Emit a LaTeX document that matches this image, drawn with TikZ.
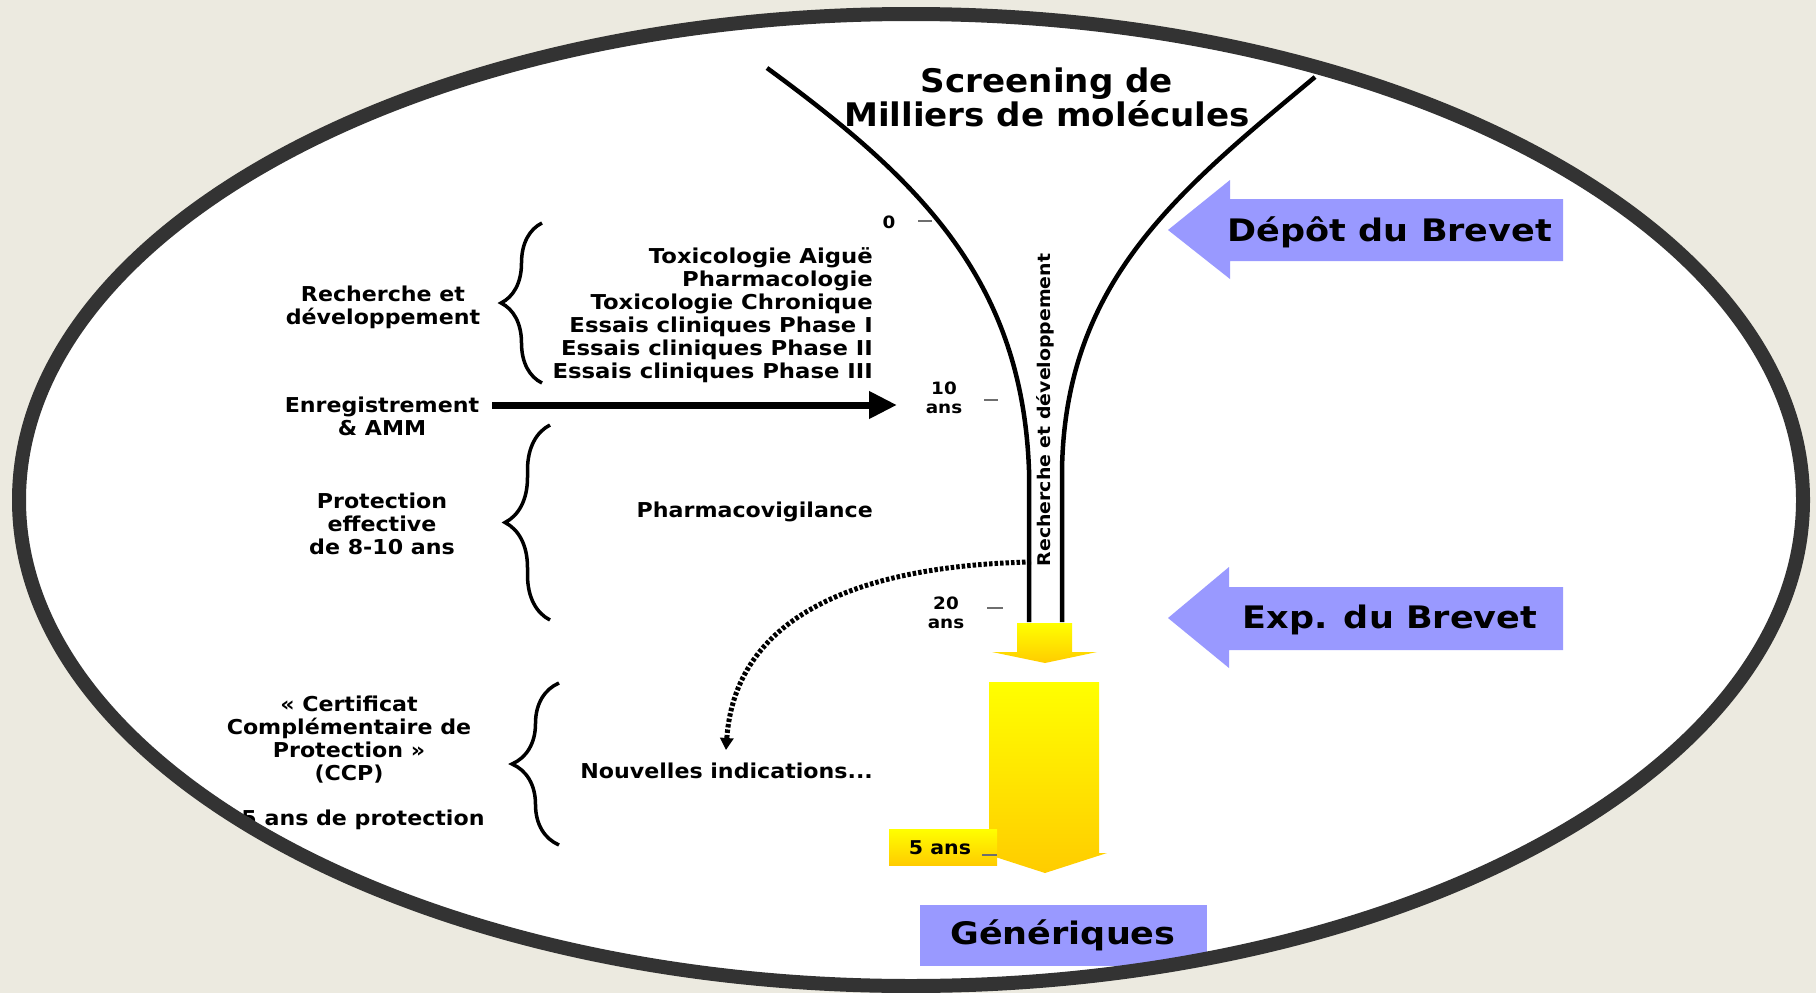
\documentclass[tikz,border=0pt]{standalone}
\usepackage{fontspec}
\setmainfont{DejaVu Sans}
\newfontfamily\bodyf[FakeStretch=1.08]{DejaVu Sans}
\newfontfamily\listf[FakeStretch=1.11]{DejaVu Sans}
\newfontfamily\titlef[FakeStretch=1.05]{DejaVu Sans}
\newfontfamily\bigf[FakeStretch=1.13]{DejaVu Sans}
\usetikzlibrary{arrows.meta,decorations.pathreplacing}
\definecolor{bgbeige}{RGB}{236,234,224}
\definecolor{framegray}{RGB}{51,51,51}
\definecolor{periwinkle}{RGB}{153,153,255}
\definecolor{goldY}{RGB}{255,204,0}
\definecolor{tickgray}{RGB}{110,110,110}
\tikzset{
  txt/.style={inner sep=0pt, align=center, font=\bodyf\bfseries\fontsize{20.5}{23}\selectfont},
  listtxt/.style={inner sep=0pt, align=right, font=\listf\bfseries\fontsize{20.5}{23}\selectfont},
  smalltxt/.style={inner sep=0pt, align=center, font=\bodyf\bfseries\fontsize{17}{18.5}\selectfont},
  verttxt/.style={inner sep=0pt, rotate=90, font=\bodyf\bfseries\fontsize{17.5}{19}\selectfont},
  titletxt/.style={inner sep=0pt, align=center, font=\titlef\bfseries\fontsize{32.5}{34}\selectfont},
  bigtxt/.style={inner sep=0pt, font=\bigf\bfseries\fontsize{31}{33}\selectfont},
  funnel/.style={line width=4.5pt, black},
  tickmark/.style={line width=2pt, tickgray},
  bracestyle/.style={line width=3.5pt, decorate},
  bluearrow/.style={fill=periwinkle},
  yellowshade/.style={top color=yellow, bottom color=goldY},
  mainarrow/.style={line width=7pt, -{Triangle[length=28pt,width=26pt]}},
  dotarrow/.style={line width=5pt, dash pattern=on 3.5pt off 2pt, -{Triangle[length=12pt,width=13pt]}},
}
\begin{document}
\begin{tikzpicture}[x=1pt,y=-1pt]
\useasboundingbox (0,0) rectangle (1816,993);
\fill[bgbeige] (0,0) rectangle (1816,993);
\fill[white] (911,500) ellipse [x radius=892pt, y radius=486pt];

% title
\node[titletxt] (title) at (1047,97) {Screening de\\Milliers de molécules};

% funnel
\draw[funnel] (767,68) .. controls (920,180) and (1022,280) .. (1029,470) -- (1029,622);
\draw[funnel] (1315,77) .. controls (1180,190) and (1065,280) .. (1062,470) -- (1062,622);
\node[verttxt] (rdv) at (1045,410) {Recherche et développement};

% scale labels
\node[smalltxt] (t0) at (889,222) {0};
\draw[tickmark] (918,221) -- (932,221);
\node[smalltxt] (t10) at (944,398) {10\\ans};
\draw[tickmark] (984,400) -- (998,400);
\node[smalltxt] (t20) at (946,613) {20\\ans};
\draw[tickmark] (987,608) -- (1003,608);

% left labels
\node[txt] (rd) at (383,307) {Recherche et\\développement};
\node[txt] (enr) at (382,416) {Enregistrement\\\& AMM};
\node[txt] (prot) at (382,524) {Protection\\effective\\de 8-10 ans};
\node[txt] (ccp) at (349,740) {« Certificat\\Complémentaire de\\Protection »\\(CCP)};
\node[txt] (cinq) at (363,820) {5 ans de protection};

% braces
\draw[bracestyle, decoration={brace, amplitude=41pt}] (542,383) -- (542,223);
\draw[bracestyle, decoration={brace, amplitude=45pt}] (550,620) -- (550,425);
\draw[bracestyle, decoration={brace, amplitude=47pt}] (559,845) -- (559,683);

% right-aligned lists
\node[listtxt, anchor=east] (list) at (873,315) {Toxicologie Aiguë\\Pharmacologie\\Toxicologie Chronique\\Essais cliniques Phase I\\Essais cliniques Phase II\\Essais cliniques Phase III};
\node[txt, anchor=east] (pv) at (873,512) {Pharmacovigilance};
\node[txt, anchor=east] (nouv) at (873,771) {Nouvelles indications...};

% main arrow
\coordinate (aStart) at (492,405);
\coordinate (aEnd) at (897,405);
\draw[mainarrow] (aStart) -- (aEnd);

% dotted arrow
\coordinate (dStart) at (1031,562);
\coordinate (dEnd) at (726,750);
\draw[dotarrow] (dStart) .. controls (850,566) and (735,620) .. (dEnd);

% blue arrows
\fill[bluearrow] (1168,230) -- (1230,180) -- (1230,199) -- (1563,199) -- (1563,261) -- (1230,261) -- (1230,279) -- cycle;
\node[bigtxt] (depot) at (1390,232) {Dépôt du Brevet};
\fill[bluearrow] (1168,618) -- (1229,567) -- (1229,587) -- (1563,587) -- (1563,650) -- (1229,650) -- (1229,668) -- cycle;
\node[bigtxt] (exp) at (1390,620) {Exp. du Brevet};

% yellow arrows
\shade[yellowshade] (1017,623) -- (1072,623) -- (1072,652) -- (1097,652) -- (1045,663) -- (992,652) -- (1017,652) -- cycle;
\shade[yellowshade] (989,682) -- (1099,682) -- (1099,853) -- (1107,853) -- (1045,873) -- (983,853) -- (989,853) -- cycle;
\node[shade, yellowshade, minimum width=108pt, minimum height=36pt, inner sep=0pt] (fivebox) at (943,847) {};
\node[inner sep=0pt, font=\bodyf\bfseries\fontsize{19}{20}\selectfont] (five) at (940,848) {5 ans};
\draw[tickmark] (982,855) -- (997,855);

% generiques
\node[fill=periwinkle, minimum width=287pt, minimum height=61pt, inner sep=0pt, font=\bigf\bfseries\fontsize{31}{33}\selectfont] (gen) at (1063,935) {Génériques};

% frame
\draw[framegray, line width=14pt] (911,500) ellipse [x radius=892pt, y radius=486pt];
\end{tikzpicture}
\end{document}
